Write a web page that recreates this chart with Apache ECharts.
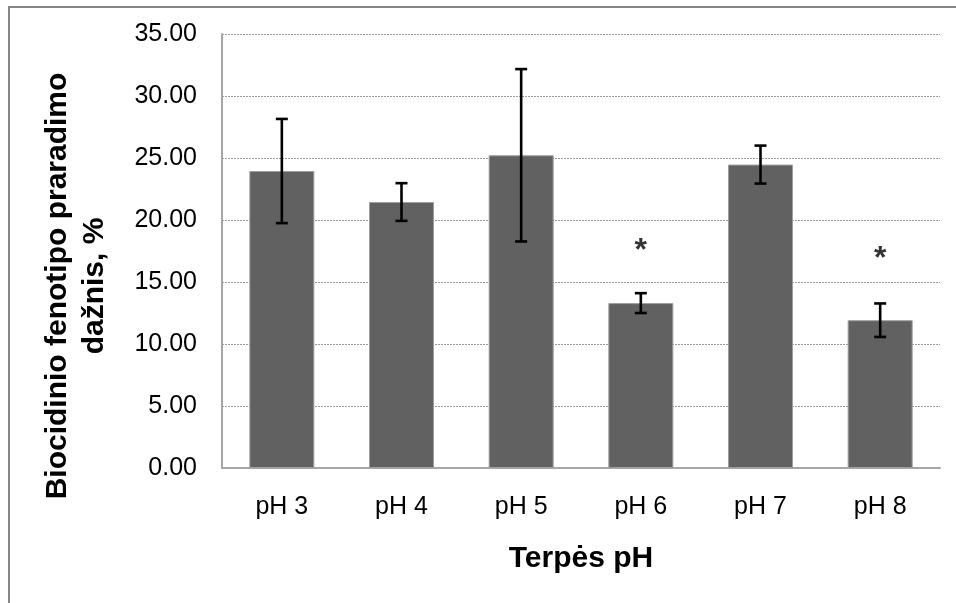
<!DOCTYPE html>
<html>
<head>
<meta charset="utf-8">
<script src="https://cdn.jsdelivr.net/npm/echarts@6/dist/echarts.min.js"></script>
<style>html,body{margin:0;padding:0;background:#fff}#c{width:956px;height:603px}</style>
</head>
<body>
<div id="c"></div>
<script>
const categories = ['pH 3', 'pH 4', 'pH 5', 'pH 6', 'pH 7', 'pH 8'];
const means = [23.95, 21.45, 25.22, 13.3, 24.47, 11.92];
const errors = [4.2, 1.52, 6.95, 0.8, 1.53, 1.35];
const starValues = [null, null, null, 17.97, null, 17.3];
const yTicks = { min: 0, max: 35, interval: 5 };
const yTitle = 'Biocidinio fenotipo praradimo\ndažnis, %';
const xTitle = 'Terpės pH';

const FONT = '"Liberation Sans", Arial, sans-serif';
const chart = echarts.init(document.getElementById('c'));

const errData = means.map((m, i) => [i, m - errors[i], m + errors[i]]);
const starData = starValues.map((v, i) => v == null ? [i, null] : [i, v]);

chart.setOption({
  animation: false,
  backgroundColor: '#fff',
  grid: { left: 222, right: 16, top: 34, bottom: 135, containLabel: false },
  xAxis: {
    type: 'category',
    data: categories,
    axisLine: { lineStyle: { color: '#a6a6a6', width: 2 } },
    axisTick: { show: false },
    axisLabel: { color: '#000', fontFamily: FONT, fontSize: 25, margin: 27 },
    name: xTitle,
    nameLocation: 'middle',
    nameGap: 76,
    nameTextStyle: { color: '#000', fontFamily: FONT, fontSize: 30, fontWeight: 'bold' }
  },
  yAxis: {
    type: 'value',
    min: yTicks.min, max: yTicks.max, interval: yTicks.interval,
    axisLine: { show: true, lineStyle: { color: '#a6a6a6', width: 2 } },
    axisTick: { show: false },
    axisLabel: { color: '#000', fontFamily: FONT, fontSize: 25, margin: 25,
      formatter: v => v.toFixed(2) },
    splitLine: { lineStyle: { color: '#9a9a9a', type: [2, 1], width: 1 } }
  },
  series: [
    {
      type: 'bar',
      data: means,
      barWidth: 65,
      itemStyle: { color: '#616161', borderColor: '#9e9e9e', borderWidth: 1 }
    },
    {
      type: 'custom',
      data: errData,
      z: 5,
      renderItem: function (params, api) {
        const x = api.value(0);
        const lo = api.coord([x, api.value(1)]);
        const hi = api.coord([x, api.value(2)]);
        const hw = 6;
        const st = { stroke: '#000', lineWidth: 2.6 };
        return {
          type: 'group',
          children: [
            { type: 'line', shape: { x1: lo[0], y1: lo[1], x2: hi[0], y2: hi[1] }, style: st },
            { type: 'line', shape: { x1: hi[0] - hw, y1: hi[1], x2: hi[0] + hw, y2: hi[1] }, style: st },
            { type: 'line', shape: { x1: lo[0] - hw, y1: lo[1], x2: lo[0] + hw, y2: lo[1] }, style: st }
          ]
        };
      }
    },
    {
      type: 'scatter',
      data: starData,
      symbolSize: 0,
      silent: true,
      label: {
        show: true, position: 'inside', formatter: '*',
        color: '#000', fontFamily: FONT, fontSize: 32, fontWeight: 'bold',
        offset: [0, 6]
      }
    }
  ],
  graphic: [
    { type: 'rect', shape: { x: 9, y: 7, width: 1000, height: 700 },
      style: { fill: 'none', stroke: '#868686', lineWidth: 2 }, silent: true },
    { type: 'text', x: 76, y: 286, rotation: Math.PI / 2,
      style: { text: yTitle, fill: '#000', font: 'bold 30px ' + FONT,
        textAlign: 'center', textVerticalAlign: 'middle', lineHeight: 37 } }
  ]
});
</script>
</body>
</html>
